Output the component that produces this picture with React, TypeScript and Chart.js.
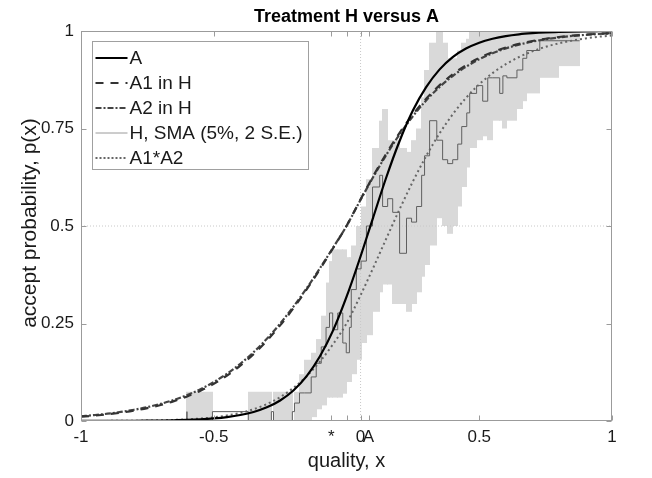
import React, { useEffect, useRef } from 'react';
import { Chart, registerables } from 'chart.js';

Chart.register(...registerables);

const FONT = "'Liberation Sans', Arial, Helvetica, sans-serif";

// Smooth model curves on a 0.05 grid
const X_GRID = [
  -1, -0.95, -0.9, -0.85, -0.8, -0.75, -0.7, -0.65, -0.6, -0.55, -0.5, -0.45, -0.4, -0.35, -0.3, -0.25, -0.2, -0.15, -0.1, -0.05,
  0, 0.05, 0.1, 0.15, 0.2, 0.25, 0.3, 0.35, 0.4, 0.45, 0.5, 0.55, 0.6, 0.65, 0.7, 0.75, 0.8, 0.85, 0.9, 0.95, 1,
];
const A_VALUES = [
  0.0001, 0.00014, 0.00022, 0.00034, 0.00052, 0.00079, 0.0012, 0.0019, 0.0028, 0.0043, 0.0066, 0.01, 0.0153, 0.0232, 0.0351, 0.0527, 0.0783, 0.115, 0.166, 0.233,
  0.318, 0.416, 0.521, 0.625, 0.718, 0.796, 0.856, 0.901, 0.933, 0.955, 0.97, 0.98, 0.987, 0.9915, 0.9944, 0.9964, 0.9976, 0.9984, 0.999, 0.9993, 0.9996,
];
const A1_VALUES = [
  0.011, 0.0137, 0.0171, 0.0213, 0.0266, 0.0331, 0.0411, 0.0509, 0.063, 0.0776, 0.0953, 0.1166, 0.1419, 0.1715, 0.2059, 0.2451, 0.2891, 0.3374, 0.3894, 0.444,
  0.5, 0.5646, 0.6271, 0.6857, 0.7389, 0.7858, 0.8264, 0.8606, 0.8889, 0.9121, 0.9309, 0.9458, 0.9577, 0.9671, 0.9744, 0.9802, 0.9846, 0.9881, 0.9908, 0.9929, 0.9945,
];
const A2_VALUES = [
  0.0122, 0.0152, 0.0187, 0.0233, 0.0288, 0.0356, 0.044, 0.0541, 0.0666, 0.0816, 0.0998, 0.1214, 0.1468, 0.1765, 0.2108, 0.2497, 0.2932, 0.3405, 0.3917, 0.4451,
  0.5, 0.5635, 0.6248, 0.6825, 0.7349, 0.7814, 0.8219, 0.8562, 0.8846, 0.9082, 0.9275, 0.943, 0.9553, 0.965, 0.9727, 0.9788, 0.9835, 0.9872, 0.9901, 0.9923, 0.994,
];
const A1A2_VALUES = [
  0.00013, 0.00021, 0.00032, 0.0005, 0.00077, 0.00118, 0.00181, 0.00275, 0.0042, 0.00633, 0.00951, 0.01416, 0.02083, 0.03027, 0.0434, 0.0612, 0.0848, 0.1149, 0.1525, 0.1976,
  0.25, 0.3182, 0.3918, 0.468, 0.543, 0.614, 0.6792, 0.7368, 0.7863, 0.8284, 0.8634, 0.8919, 0.9149, 0.9333, 0.9478, 0.9594, 0.9684, 0.9754, 0.981, 0.9853, 0.9885,
];

// Simple moving average (step function): segment boundaries and per-segment values
const SMA_BOUNDS = [
  -0.601, -0.505, -0.37, -0.283, -0.275, -0.204, -0.196, -0.177, -0.158, -0.133, -0.114, -0.095, -0.077, -0.064, -0.052, -0.033, -0.014, -0.001,
  0.011, 0.018, 0.037, 0.055, 0.075, 0.098, 0.125, 0.136, 0.155, 0.174, 0.2, 0.226, 0.245, 0.264, 0.283, 0.294, 0.313, 0.34, 0.362, 0.381,
  0.4, 0.419, 0.434, 0.453, 0.464, 0.49, 0.513, 0.532, 0.551, 0.577, 0.589, 0.604, 0.642, 0.664, 0.679, 0.728, 0.8, 0.878,
];
const SMA_MID = [
  0.024, 0, 0.024, 0, 0.024, 0, 0.024, 0.046, 0.072, 0.072, 0.113, 0.148, 0.19, 0.24, 0.277, 0.234, 0.277, 0.2,
  0.175, 0.24, 0.337, 0.39, 0.41, 0.5, 0.6, 0.63, 0.55, 0.57, 0.535, 0.43, 0.52, 0.51, 0.55, 0.63, 0.68, 0.77, 0.72, 0.67,
  0.66, 0.67, 0.71, 0.755, 0.79, 0.84, 0.86, 0.82, 0.88, 0.88, 0.84, 0.885, 0.88, 0.9, 0.93, 0.95, 0.975,
];
const SMA_LO = [
  0, 0, 0, 0, 0, 0, 0, 0, 0, 0.01, 0.03, 0.04, 0.06, 0.06, 0.06, 0.06, 0.07, 0.1,
  0.1, 0.12, 0.157, 0.2, 0.22, 0.28, 0.33, 0.35, 0.35, 0.3, 0.3, 0.28, 0.3, 0.33, 0.37, 0.4, 0.45, 0.52, 0.5, 0.48,
  0.5, 0.55, 0.6, 0.65, 0.7, 0.72, 0.73, 0.72, 0.77, 0.77, 0.75, 0.77, 0.8, 0.82, 0.84, 0.88, 0.91,
];
const SMA_HI = [
  0.075, 0, 0.075, 0, 0.075, 0, 0.075, 0.12, 0.157, 0.175, 0.21, 0.27, 0.355, 0.41, 0.44, 0.44, 0.44, 0.42,
  0.42, 0.45, 0.5, 0.55, 0.62, 0.7, 0.77, 0.8, 0.72, 0.72, 0.7, 0.69, 0.72, 0.75, 0.83, 0.9, 0.97, 1, 0.97, 0.93,
  0.93, 0.95, 0.97, 0.98, 1, 1, 1, 1, 1, 1, 1, 1, 1, 1, 1, 1, 1,
];

const X_TICKS = [-1, -0.5, -0.057, 0, 0.053, 0.083, 0.5, 1];
const X_TICK_LABELS = ['-1', '-0.5', '*', '', '0', 'A', '0.5', '1'];
const Y_TICKS = [0, 0.25, 0.5, 0.75, 1];
const Y_TICK_LABELS = ['0', '0.25', '0.5', '0.75', '1'];
const REF_X = 0.053;
const REF_Y = 0.5;

const TITLE = 'Treatment H versus A';
const X_TITLE = 'quality, x';
const Y_TITLE = 'accept probability, p(x)';

const LEGEND = [
  { label: 'A', color: '#000000', width: 2, dash: [] as number[] },
  { label: 'A1 in H', color: '#333333', width: 2, dash: [8, 7] },
  { label: 'A2 in H', color: '#444444', width: 2, dash: [6, 2, 2, 2] },
  { label: 'H, SMA (5%, 2 S.E.)', color: '#9a9a9a', width: 1, dash: [] as number[] },
  { label: 'A1*A2', color: '#666666', width: 2, dash: [2, 2] },
];

function curve(values: number[]) {
  return X_GRID.map((x, i) => ({ x, y: values[i] }));
}

function steps(values: number[], lead?: number) {
  const pts: { x: number; y: number }[] = [];
  if (lead !== undefined) pts.push({ x: SMA_BOUNDS[0], y: lead });
  values.forEach((v, i) => pts.push({ x: SMA_BOUNDS[i], y: v }));
  pts.push({ x: SMA_BOUNDS[SMA_BOUNDS.length - 1], y: values[values.length - 1] });
  return pts;
}

// Shaded confidence band (2 S.E.) drawn as a stepped polygon through the chart scales
const bandPlugin = {
  id: 'band',
  beforeDatasetsDraw(chart: any) {
    const { ctx, chartArea: a, scales } = chart;
    const xs = scales.x;
    const ys = scales.y;
    ctx.save();
    ctx.beginPath();
    ctx.rect(a.left, a.top, a.right - a.left, a.bottom - a.top);
    ctx.clip();
    ctx.fillStyle = '#d9d9d9';
    for (let i = 0; i < SMA_HI.length; i++) {
      if (SMA_HI[i] <= SMA_LO[i]) continue;
      const x0 = xs.getPixelForValue(SMA_BOUNDS[i]);
      const x1 = xs.getPixelForValue(SMA_BOUNDS[i + 1]);
      const yTop = ys.getPixelForValue(SMA_HI[i]);
      const yBot = ys.getPixelForValue(SMA_LO[i]);
      ctx.fillRect(Math.floor(x0), yTop, Math.ceil(x1) - Math.floor(x0), yBot - yTop);
    }
    ctx.restore();
  },
};

const decorPlugin = {
  id: 'decor',
  afterDatasetsDraw(chart: any) {
    const { ctx, chartArea: a, scales } = chart;
    const xs = scales.x;
    const ys = scales.y;
    const L = Math.round(a.left) + 0.5;
    const R = Math.round(a.right) - 0.5;
    const T = Math.round(a.top) + 0.5;
    const B = Math.round(a.bottom) - 0.5;
    ctx.save();
    ctx.setLineDash([]);
    ctx.strokeStyle = '#9b9b9b';
    ctx.lineWidth = 1;
    ctx.beginPath();
    X_TICKS.forEach((v) => {
      const px = Math.round(xs.getPixelForValue(v)) + 0.5;
      ctx.moveTo(px, B);
      ctx.lineTo(px, B - 5);
      ctx.moveTo(px, T);
      ctx.lineTo(px, T + 5);
    });
    Y_TICKS.forEach((v) => {
      const py = Math.round(ys.getPixelForValue(v)) + 0.5;
      ctx.moveTo(L, py);
      ctx.lineTo(L + 5, py);
      ctx.moveTo(R, py);
      ctx.lineTo(R - 5, py);
    });
    ctx.stroke();
    ctx.strokeRect(L, T, R - L, B - T);

    // legend box
    const lx = Math.round(a.left) + 11.5;
    const ly = Math.round(a.top) + 10.5;
    const lw = 216;
    const lh = 128;
    ctx.fillStyle = '#ffffff';
    ctx.fillRect(lx, ly, lw, lh);
    ctx.strokeStyle = '#a0a0a0';
    ctx.strokeRect(lx, ly, lw, lh);
    ctx.font = `19px ${FONT}`;
    ctx.textBaseline = 'middle';
    ctx.textAlign = 'left';
    LEGEND.forEach((item, i) => {
      const y = Math.round(ly + 16 + i * 25);
      ctx.beginPath();
      ctx.strokeStyle = item.color;
      ctx.lineWidth = item.width;
      ctx.setLineDash(item.dash);
      ctx.moveTo(lx + 3, y);
      ctx.lineTo(lx + 35, y);
      ctx.stroke();
      ctx.setLineDash([]);
      ctx.fillStyle = '#1a1a1a';
      ctx.fillText(item.label, lx + 37, y + 1);
    });

    // title and axis titles
    const cx = (a.left + a.right) / 2;
    const cy = (a.top + a.bottom) / 2;
    ctx.fillStyle = '#000000';
    ctx.textAlign = 'center';
    ctx.font = `bold 18px ${FONT}`;
    ctx.fillText(TITLE, cx, 17);
    ctx.font = `20px ${FONT}`;
    ctx.fillStyle = '#1a1a1a';
    ctx.fillText(X_TITLE, cx, 461);
    ctx.translate(30, cy - 3);
    ctx.rotate(-Math.PI / 2);
    ctx.font = `21px ${FONT}`;
    ctx.fillText(Y_TITLE, 0, 0);
    ctx.restore();
  },
};

export default function App() {
  const ref = useRef<HTMLCanvasElement | null>(null);

  useEffect(() => {
    if (!ref.current) return;
    const chart = new Chart(ref.current, {
      type: 'line',
      data: {
        datasets: [
          { label: 'A', data: curve(A_VALUES), borderColor: '#000000', borderWidth: 2.2, pointRadius: 0, cubicInterpolationMode: 'monotone', order: 1, fill: false },
          { label: 'A1 in H', data: curve(A1_VALUES), borderColor: '#333333', borderWidth: 2.2, borderDash: [8, 7], pointRadius: 0, cubicInterpolationMode: 'monotone', order: 2, fill: false },
          { label: 'A2 in H', data: curve(A2_VALUES), borderColor: '#444444', borderWidth: 2.2, borderDash: [6, 2, 2, 2], pointRadius: 0, cubicInterpolationMode: 'monotone', order: 3, fill: false },
          { label: 'A1*A2', data: curve(A1A2_VALUES), borderColor: '#666666', borderWidth: 2, borderDash: [2, 3], pointRadius: 0, cubicInterpolationMode: 'monotone', order: 4, fill: false },
          { label: 'H, SMA (5%, 2 S.E.)', data: steps(SMA_MID, 0), borderColor: '#5f5f5f', borderWidth: 1, stepped: 'after', pointRadius: 0, order: 5, fill: false },
          { label: 'refx', data: [{ x: REF_X, y: 0 }, { x: REF_X, y: 1 }], borderColor: '#c8c8c8', borderWidth: 1, borderDash: [1, 2], pointRadius: 0, order: 7, fill: false },
          { label: 'refy', data: [{ x: -1, y: REF_Y }, { x: 1, y: REF_Y }], borderColor: '#c8c8c8', borderWidth: 1, borderDash: [1, 2], pointRadius: 0, order: 7, fill: false },
        ] as any,
      },
      options: {
        animation: false,
        responsive: false,
        maintainAspectRatio: false,
        devicePixelRatio: 1,
        layout: { padding: { left: 0, top: 31, right: 40, bottom: 0 } },
        plugins: {
          legend: { display: false },
          title: { display: false },
          tooltip: { enabled: false },
        },
        scales: {
          x: {
            type: 'linear',
            min: -1,
            max: 1,
            grid: { display: false, drawTicks: false },
            border: { display: false },
            afterBuildTicks: (s: any) => {
              s.ticks = X_TICKS.map((v) => ({ value: v }));
            },
            afterFit: (s: any) => {
              s.height = 57;
            },
            ticks: {
              autoSkip: false,
              maxRotation: 0,
              minRotation: 0,
              padding: 6,
              color: '#1a1a1a',
              font: { family: FONT, size: 17 },
              callback: (v: any) => {
                const i = X_TICKS.indexOf(Number(v));
                return i >= 0 ? X_TICK_LABELS[i] : '';
              },
            },
          },
          y: {
            type: 'linear',
            min: 0,
            max: 1,
            grid: { display: false, drawTicks: false },
            border: { display: false },
            afterBuildTicks: (s: any) => {
              s.ticks = Y_TICKS.map((v) => ({ value: v }));
            },
            afterFit: (s: any) => {
              s.width = 81;
            },
            ticks: {
              padding: 7,
              color: '#1a1a1a',
              font: { family: FONT, size: 17 },
              callback: (v: any) => {
                const i = Y_TICKS.indexOf(Number(v));
                return i >= 0 ? Y_TICK_LABELS[i] : '';
              },
            },
          },
        },
      } as any,
      plugins: [bandPlugin, decorPlugin],
    });
    return () => chart.destroy();
  }, []);

  return (
    <div style={{ position: 'fixed', left: 0, top: 0, width: 652, height: 478, background: '#ffffff' }}>
      <canvas ref={ref} width={652} height={478} style={{ display: 'block', width: 652, height: 478 }} />
    </div>
  );
}
